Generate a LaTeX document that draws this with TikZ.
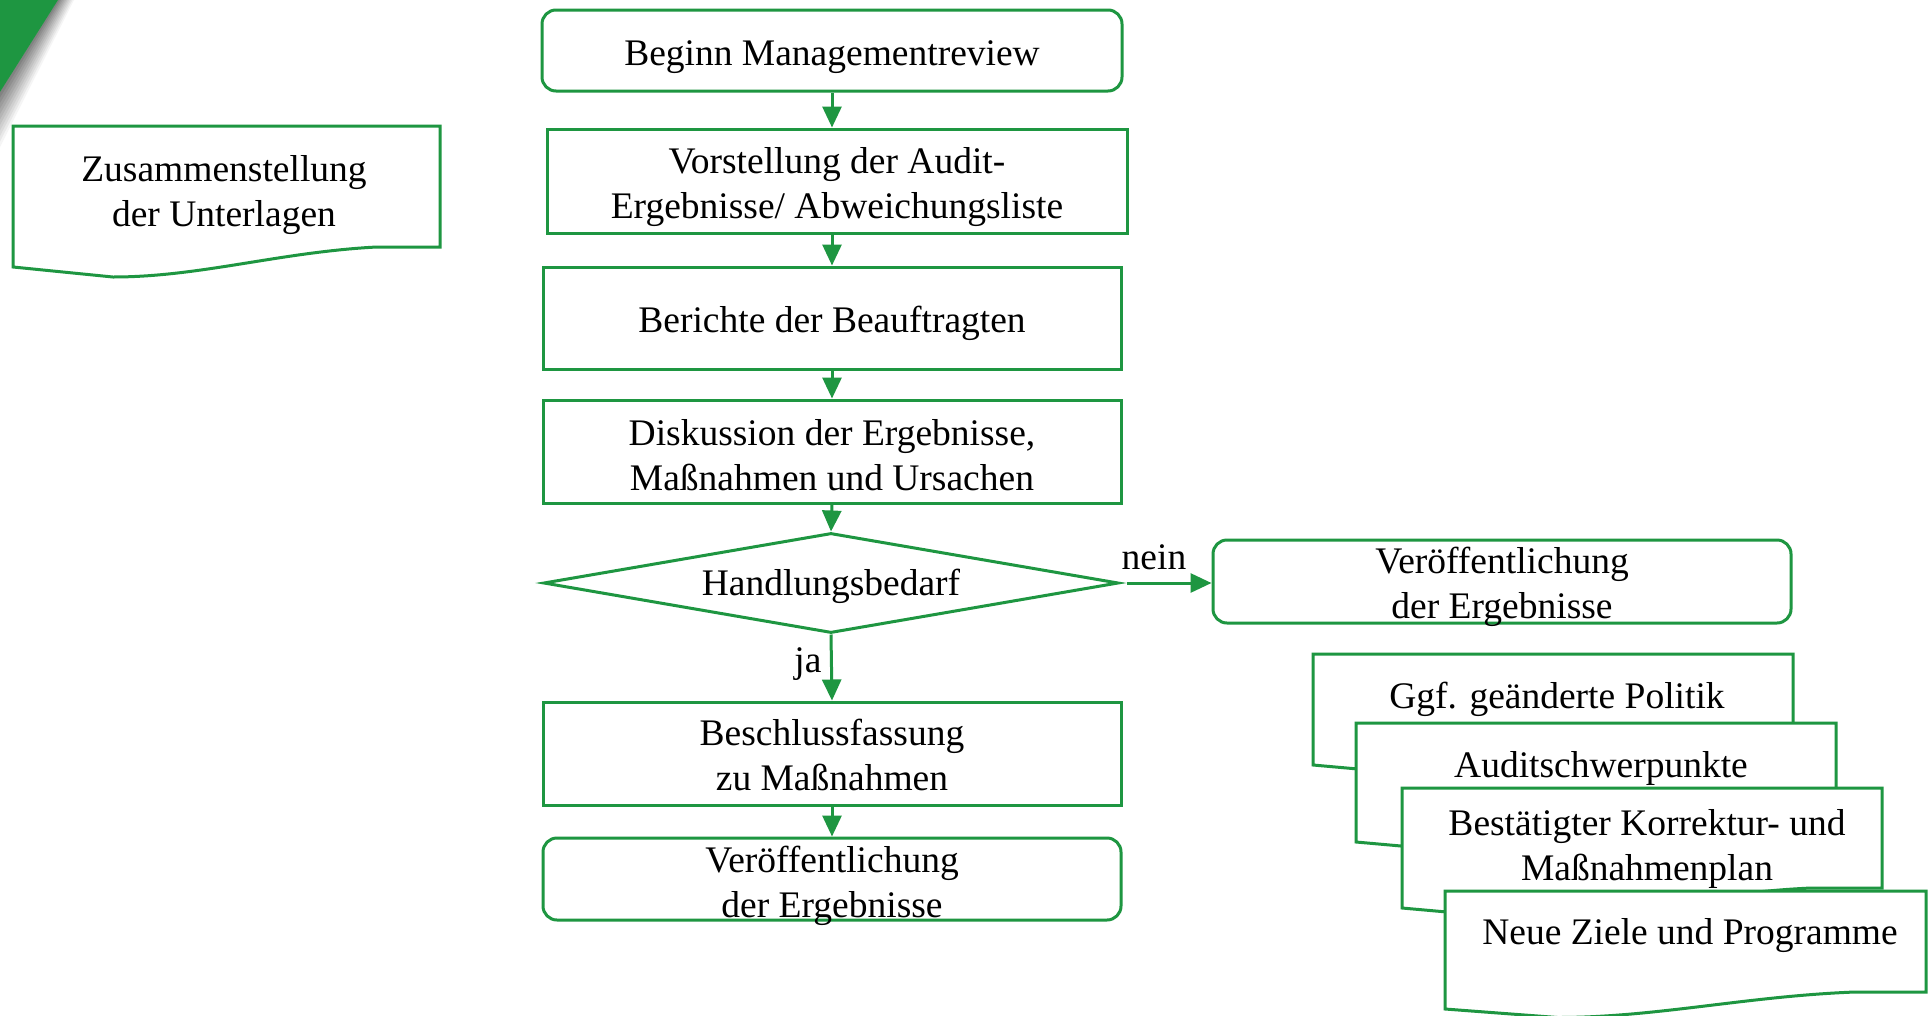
\documentclass[tikz,border=0pt]{standalone}
\usepackage{fontspec}
\setmainfont{Liberation Serif}
\usetikzlibrary{shapes.geometric,arrows.meta}
\definecolor{qmgreen}{RGB}{30,150,65}
% x0, ytop, w, yBL, yBR
\newcommand\qmdoc[5]{%
  \path[docline] (#1,#2) -- (#1+#3,#2) -- (#1+#3,#5) -- ({#1+0.852*#3},#5)
    .. controls ({#1+0.625*#3},{#5+0.25*(#4-#5)}) and ({#1+0.438*#3},{#4+0.5*(#4-#5)}) ..
    ({#1+0.234*#3},{#4+0.5*(#4-#5)}) -- (#1,#4) -- cycle;}
\begin{document}
\begin{tikzpicture}[x=1pt,y=-1pt,
  every node/.style={font=\fontsize{37.5}{45}\selectfont, align=center, inner sep=0pt},
  tshift/.style={execute at begin node={\rule{0pt}{#1}}},
  procbox/.style={draw=qmgreen, line width=3pt, rectangle, fill=white},
  roundbox/.style={procbox, rounded corners=14pt},
  decbox/.style={draw=qmgreen, line width=3pt, diamond, aspect=5.75, fill=white},
  flow/.style={draw=qmgreen, line width=3pt, -{Triangle[length=21pt,width=19pt]}},
  docline/.style={draw=qmgreen, line width=3pt, fill=white, line join=miter}]
\useasboundingbox (0,0) rectangle (1930,1015);
\fill[white] (0,0) rectangle (1930,1015);

% corner decoration
\foreach \i [evaluate=\i as \s using 1-\i/10, evaluate=\i as \pc using 4+\i*5] in {0,...,9}{
  \fill[black!\pc] (58,0) -- ({58+16*\s},0) -- (0,{92+55*\s}) -- (0,92) -- cycle;
}
\fill[qmgreen] (0,0) -- (58,0) -- (0,92) -- cycle;

% main column
\node[roundbox, tshift=38pt, minimum width=580pt, minimum height=81pt] (begin) at (832,50.5) {Beginn Managementreview};
\node[procbox, tshift=83pt, minimum width=580pt, minimum height=104pt] (vorst) at (837,181) {Vorstellung der Audit-\\Ergebnisse/ Abweichungsliste};
\node[procbox, tshift=38pt, minimum width=578pt, minimum height=102pt] (ber) at (832,318) {Berichte der Beauftragten};
\node[procbox, tshift=79pt, minimum width=578pt, minimum height=103pt] (disk) at (832,451.5) {Diskussion der Ergebnisse,\\Maßnahmen und Ursachen};
\node[decbox, tshift=34pt, minimum width=575pt, minimum height=100pt] (dec) at (831,583) {Handlungsbedarf};
\node[procbox, tshift=75pt, minimum width=578pt, minimum height=103pt] (besch) at (832,753.5) {Beschlussfassung\\zu Maßnahmen};
\node[roundbox, text height=78pt, text depth=1pt, minimum width=578pt, minimum height=82pt] (ver1) at (832,879) {Veröffentlichung\\der Ergebnisse};
\node[roundbox, text height=76.5pt, text depth=2.5pt, minimum width=578pt, minimum height=83pt] (ver2) at (1502,581.5) {Veröffentlichung\\der Ergebnisse};

\draw[flow] (begin.south) -- (begin.south |- vorst.north);
\draw[flow] (ber.north |- vorst.south) -- (ber.north);
\draw[flow] (ber.south) -- (disk.north);
\draw[flow] (disk.south) -- (dec.north);
\draw[flow] (dec.south) -- (besch.north);
\draw[flow] (besch.south) -- (ver1.north);
\draw[flow, shorten <=7pt] (dec.east) -- (dec.east -| ver2.west);
\node (nein) at (1154,557.5) {nein};
\node (ja) at (808,664) {ja};

% document: Zusammenstellung
\qmdoc{13}{126}{427}{267}{247}
\node (zus) at (224,195) {Zusammenstellung\\der Unterlagen};

% stacked documents
\qmdoc{1313}{654}{480}{765}{745}
\node (ggf) at (1557,699) {Ggf. geänderte Politik};
\qmdoc{1356}{723}{480}{842}{822}
\node (aud) at (1601,768.5) {Auditschwerpunkte};
\qmdoc{1402}{788}{480}{908}{888}
\node (best) at (1647,849) {Bestätigter Korrektur- und\\Maßnahmenplan};
\qmdoc{1445}{891}{481}{1009}{992}
\node (neue) at (1690,935.5) {Neue Ziele und Programme};
\end{tikzpicture}
\end{document}
